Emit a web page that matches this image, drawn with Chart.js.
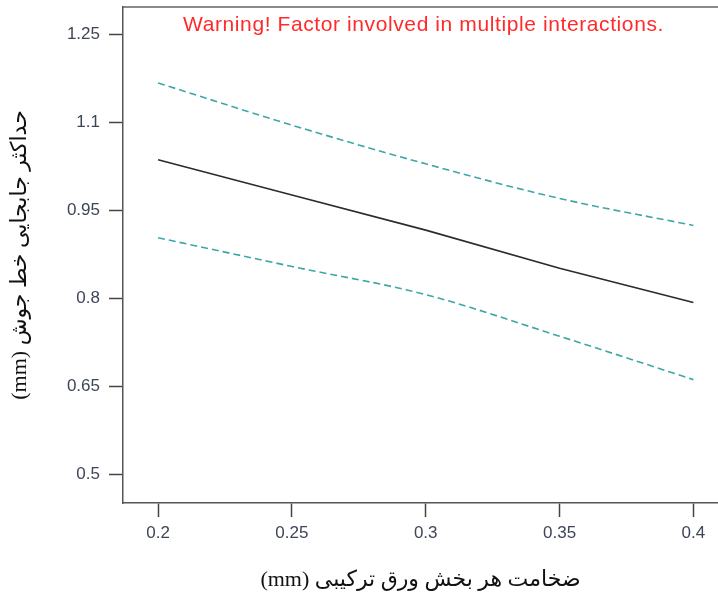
<!DOCTYPE html>
<html>
<head>
<meta charset="utf-8">
<script src="https://cdn.jsdelivr.net/npm/chart.js@4/dist/chart.umd.min.js"></script>
<style>
  html, body { margin: 0; padding: 0; background: #fff; }
  canvas { display: block; }
</style>
</head>
<body>
<canvas id="c" width="718" height="597" dir="rtl"></canvas>
<script>
// ---- data ----
const thickness = [0.2, 0.25, 0.3, 0.35, 0.4];
const meanDisp  = [1.036, 0.976, 0.916, 0.851, 0.7925];
const upperCI   = [1.167, 1.095, 1.029, 0.970, 0.924];
const lowerCI   = [0.903, 0.854, 0.806, 0.735, 0.661];
const xTickValues = [0.2, 0.25, 0.3, 0.35, 0.4];
const yTickValues = [0.5, 0.65, 0.8, 0.95, 1.1, 1.25];
const xTitle = 'ضخامت هر بخش ورق ترکیبی (mm)';
const yTitle = 'حداکثر جابجایی خط جوش (mm)';
const warningText = 'Warning! Factor involved in multiple interactions.';

const toPoints = ys => thickness.map((x, i) => ({ x: x, y: ys[i] }));

const tickFont = { family: '"Liberation Sans", Arial, sans-serif', size: 17 };
const tickColor = '#3d4557';
const titleFont = { family: '"Liberation Serif", "Times New Roman", "DejaVu Sans", serif', size: 22 };

const warningPlugin = {
  id: 'warning',
  afterDraw(chart) {
    const ctx = chart.ctx;
    const a = chart.chartArea;
    ctx.save();
    ctx.direction = 'ltr';
    ctx.font = '21px "Liberation Sans", Arial, sans-serif';
    ctx.letterSpacing = '0.6px';
    ctx.fillStyle = '#ff2a2a';
    ctx.textAlign = 'center';
    ctx.textBaseline = 'middle';
    ctx.fillText(warningText, (a.left + a.right) / 2 + 3, a.top + 18);
    ctx.restore();
  }
};

new Chart(document.getElementById('c'), {
  type: 'line',
  data: {
    datasets: [
      { data: toPoints(upperCI), borderColor: '#3fa6a6', borderWidth: 1.6, borderDash: [7, 4], pointRadius: 0, cubicInterpolationMode: 'monotone', fill: false },
      { data: toPoints(meanDisp), borderColor: '#2b2b2b', borderWidth: 1.6, pointRadius: 0, tension: 0, fill: false },
      { data: toPoints(lowerCI), borderColor: '#3fa6a6', borderWidth: 1.6, borderDash: [7, 4], pointRadius: 0, cubicInterpolationMode: 'monotone', fill: false }
    ]
  },
  options: {
    responsive: false,
    devicePixelRatio: 1,
    animation: false,
    layout: { padding: { top: 7, right: 0, left: 0, bottom: 0 } },
    plugins: { legend: { display: false }, tooltip: { enabled: false }, title: { display: false } },
    scales: {
      x: {
        type: 'linear',
        position: 'bottom',
        min: 0.1869,
        max: 0.4092,
        afterBuildTicks: s => { s.ticks = xTickValues.map(v => ({ value: v })); },
        afterFit: s => { s.height = 94; s.paddingLeft = 0; s.paddingRight = 0; },
        ticks: { callback: v => String(v), font: tickFont, color: tickColor, padding: 6, maxRotation: 0, autoSkip: false },
        grid: { display: true, drawOnChartArea: false, drawTicks: true, tickLength: 14, tickColor: '#444', tickWidth: 1.5 },
        border: { display: true, color: '#555', width: 1.5 },
        title: { display: true, text: xTitle, font: titleFont, color: '#111', padding: { top: 4, bottom: 4 } }
      },
      xTop: {
        type: 'linear',
        position: 'top',
        min: 0.1869,
        max: 0.4092,
        afterFit: s => { s.height = 0; s.paddingLeft = 0; s.paddingRight = 0; },
        ticks: { display: false },
        grid: { display: false, drawTicks: false },
        border: { display: true, color: '#8a8a8a', width: 2 }
      },
      y: {
        type: 'linear',
        position: 'left',
        min: 0.4506,
        max: 1.2965,
        afterBuildTicks: s => { s.ticks = yTickValues.map(v => ({ value: v })); },
        afterFit: s => { s.width = 123; s.paddingTop = 0; s.paddingBottom = 0; },
        ticks: { callback: v => String(v), font: tickFont, color: tickColor, padding: 9, autoSkip: false },
        grid: { display: true, drawOnChartArea: false, drawTicks: true, tickLength: 14, tickColor: '#444', tickWidth: 1.5 },
        border: { display: true, color: '#555', width: 1.5 },
        title: { display: true, text: yTitle, font: titleFont, color: '#111', padding: { top: 7, bottom: 0 } }
      }
    }
  },
  plugins: [warningPlugin]
});
</script>
</body>
</html>
